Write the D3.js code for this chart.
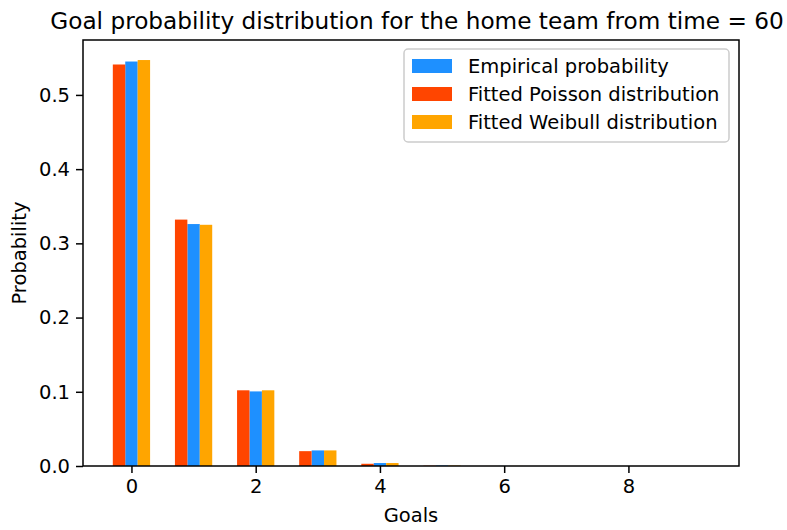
<!DOCTYPE html>
<html>
<head>
    <title>Goal probability</title>
    <script src="https://cdn.jsdelivr.net/npm/d3@7"></script>
    <style>
        body { margin: 0; background: #fff; }
        text { font-family: 'DejaVu Sans', sans-serif; fill: #000; }
    </style>
</head>
<body>
    <svg width="787" height="530" id="mainsvg"></svg>
    <script>
        // data
        const goals = [0, 1, 2, 3, 4, 5, 6, 7, 8, 9];
        const empirical = [0.545, 0.326, 0.1005, 0.021, 0.004, 0.0007, 0.0001, 0, 0, 0];
        const poisson = [0.541, 0.332, 0.102, 0.0200, 0.0030, 0.0004, 0.00004, 0, 0, 0];
        const weibull = [0.547, 0.325, 0.102, 0.021, 0.004, 0.0006, 0.0001, 0, 0, 0];
        const xTicks = [0, 2, 4, 6, 8];
        const yTicks = [0, 0.1, 0.2, 0.3, 0.4, 0.5];

        const series = [
            { name: 'Empirical probability', values: empirical, offset: 0, color: '#1E90FF' },
            { name: 'Fitted Poisson distribution', values: poisson, offset: -0.2, color: '#FF4500' },
            { name: 'Fitted Weibull distribution', values: weibull, offset: 0.2, color: '#FFA500' }
        ];

        const svg = d3.select('#mainsvg');
        const margin = { top: 40, right: 48, bottom: 64, left: 83 };
        const innerWidth = 787 - margin.left - margin.right;
        const innerHeight = 530 - margin.top - margin.bottom;
        const g = svg.append('g').attr('transform', `translate(${margin.left}, ${margin.top})`);

        const xScale = d3.scaleLinear().domain([-0.78, 9.78]).range([0, innerWidth]);
        const yScale = d3.scaleLinear().domain([0, 0.574]).range([innerHeight, 0]);
        const barW = 0.2;

        // bars
        series.forEach(s => {
            g.append('g').attr('fill', s.color)
                .selectAll('rect').data(goals).join('rect')
                .attr('x', d => xScale(d + s.offset - barW / 2))
                .attr('width', xScale(barW) - xScale(0))
                .attr('y', (d, i) => yScale(s.values[i]))
                .attr('height', (d, i) => yScale(0) - yScale(s.values[i]));
        });

        // axes
        const yAxis = d3.axisLeft(yScale).tickValues(yTicks).tickFormat(d3.format('.1f')).tickSize(7).tickPadding(6);
        const xAxis = d3.axisBottom(xScale).tickValues(xTicks).tickSize(7).tickPadding(6);
        const ya = g.append('g').call(yAxis);
        const xa = g.append('g').attr('transform', `translate(0, ${innerHeight})`).call(xAxis);
        [ya, xa].forEach(a => {
            a.attr('font-size', 19.5).attr('font-family', 'DejaVu Sans');
            a.select('.domain').remove();
            a.selectAll('line').attr('stroke', '#000').attr('stroke-width', 1.5);
        });

        // frame
        g.append('rect').attr('width', innerWidth).attr('height', innerHeight)
            .attr('fill', 'none').attr('stroke', '#000').attr('stroke-width', 1.5);

        // labels
        svg.append('text').attr('x', margin.left + innerWidth / 2).attr('y', 522)
            .attr('text-anchor', 'middle').attr('font-size', '19.5px').text('Goals');
        svg.append('text').attr('transform', `translate(26, ${margin.top + innerHeight / 2}) rotate(-90)`)
            .attr('text-anchor', 'middle').attr('font-size', '19.5px').text('Probability');
        svg.append('text').attr('x', 417).attr('y', 29)
            .attr('text-anchor', 'middle').attr('font-size', '23.2px')
            .text('Goal probability distribution for the home team from time = 60');

        // legend
        const legend = svg.append('g').attr('transform', 'translate(404, 49)');
        legend.append('rect').attr('width', 325).attr('height', 93).attr('rx', 4)
            .attr('fill', '#fff').attr('fill-opacity', 0.8).attr('stroke', '#ccc').attr('stroke-width', 1.5);
        series.forEach((s, i) => {
            const row = legend.append('g').attr('transform', `translate(0, ${17 + i * 28})`);
            row.append('rect').attr('x', 8).attr('y', -7).attr('width', 40).attr('height', 14).attr('fill', s.color);
            row.append('text').attr('x', 64).attr('y', 0).attr('dy', '0.35em')
                .attr('font-size', '19.5px').text(s.name);
        });
    </script>
</body>
</html>
